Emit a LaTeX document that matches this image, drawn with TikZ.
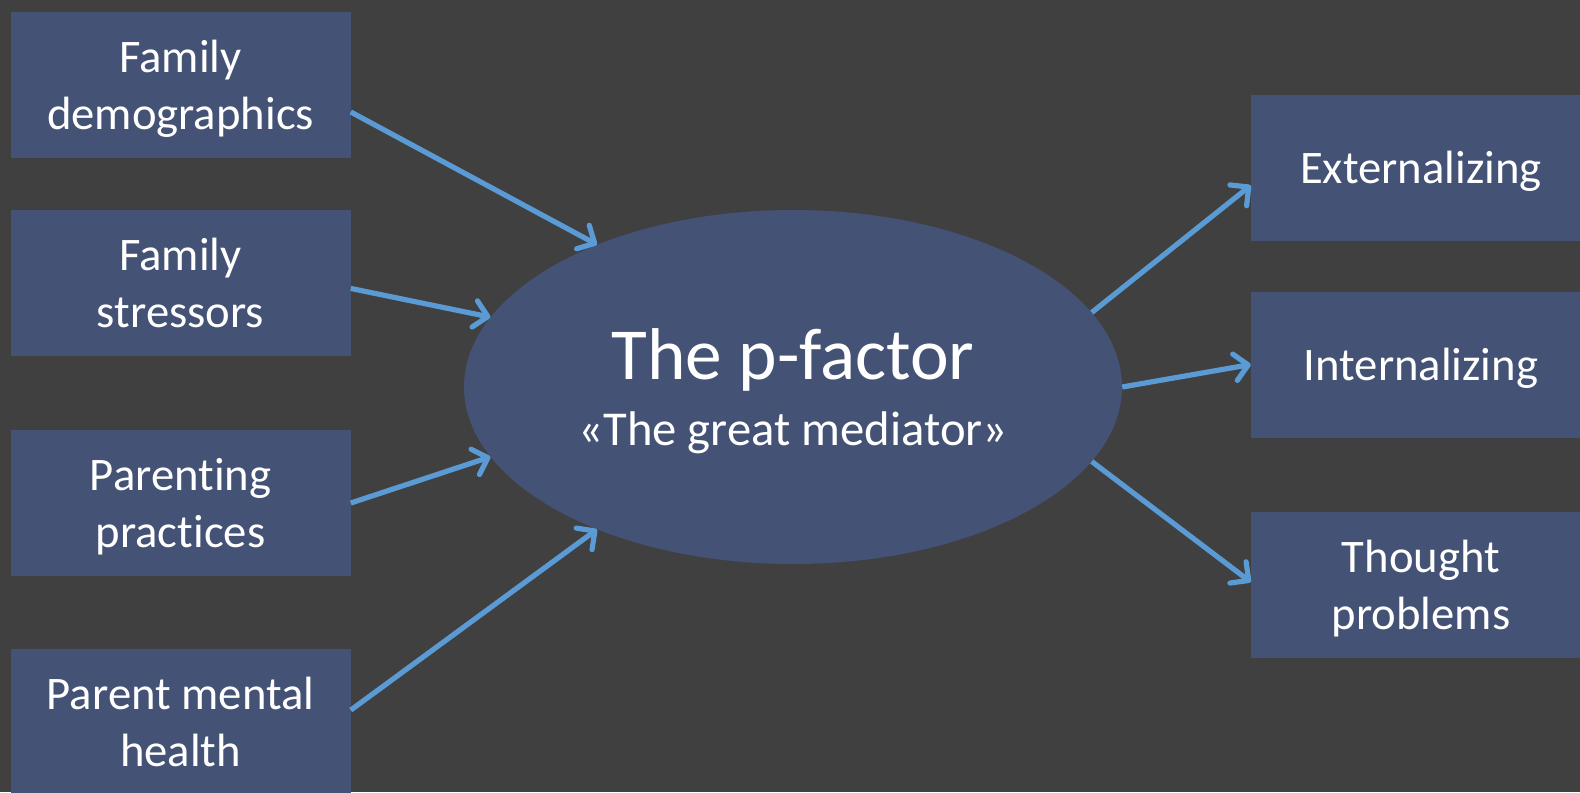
\documentclass[tikz,border=0pt]{standalone}
\usepackage{fontspec}
\setmainfont{Carlito}[Ligatures=NoCommon]
\usepackage{xcolor}
\usepackage{tikz}
\usetikzlibrary{shapes.geometric, arrows.meta, calc}

\definecolor{bgdark}{HTML}{404040}
\definecolor{boxblue}{HTML}{445275}
\definecolor{arrowblue}{HTML}{5B9BD5}

\begin{document}
\begin{tikzpicture}[
   x=0.75pt, y=-0.75pt,
   box/.style = {fill=boxblue, rectangle, minimum width=255pt, minimum height=109.5pt, align=center, inner sep=0pt, text depth=0pt, text=white, font=\fontsize{35}{43}\selectfont},
   mediator/.style = {fill=boxblue, ellipse, minimum width=493.5pt, minimum height=265.5pt, inner sep=0pt, align=center, text depth=-4pt, text=white, font=\fontsize{55}{49}\selectfont},
   line/.style = {draw=arrowblue, line width=3.9pt, -{Straight Barb[length=10pt, width=20pt, round]}}
   ]
  \useasboundingbox (0,0) rectangle (1580,792);
  \clip (0,0) rectangle (1580,792);
  \fill[bgdark] (0,0) rectangle (1580,792);

  % Influences (left)
  \node[box] (famdem) at (180.5,85) {Family\\demographics};
  \node[box] (famstress) at (180.5,282.5) {Family\\stressors};
  \node[box] (parenting) at (180.5,503) {Parenting\\practices};
  \node[box] (parentmh) at (180.5,722) {Parent mental\\health};

  % Mediator
  \node[mediator] (pfactor) at (793,387)
   {The p-factor\\{\fontsize{36.5}{44}\selectfont «The great mediator»}};

  % Outcomes (right)
  \node[box] (extern) at (1421,167.5) {Externalizing};
  \node[box] (intern) at (1421,364.5) {Internalizing};
  \node[box] (thought) at (1421,585) {Thought\\problems};

  % Arrows
  \draw[line] (famdem.-9) -- (pfactor.144);
  \draw[line] (famstress.-2) -- (pfactor.167);
  \draw[line] (parenting.east) -- (pfactor.193);
  \draw[line] (parentmh.4) -- (pfactor.216);
  \draw[line] (pfactor.14) -- (extern.186);
  \draw[line] (pfactor.east) -- (intern.west);
  \draw[line] (pfactor.-14) -- (thought.179);
\end{tikzpicture}
\end{document}
